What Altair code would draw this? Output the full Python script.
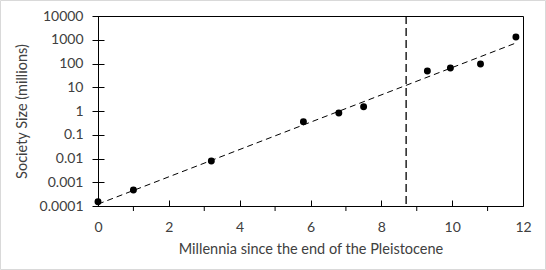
import altair as alt
import pandas as pd

# Data
millennia = [0.0, 1.0, 3.2, 5.8, 6.8, 7.5, 9.3, 9.95, 10.8, 11.8]
society_size = [0.00015, 0.00047, 0.0078, 0.35, 0.83, 1.5, 48, 65, 95, 1300]

trend_x = [0.0, 11.8]
trend_y = [0.00012, 730]

boundary_x = [8.7]

x_major = [0, 2, 4, 6, 8, 10, 12]
x_minor = [1, 3, 5, 7, 9, 11]
y_ticks = [0.0001, 0.001, 0.01, 0.1, 1, 10, 100, 1000, 10000]

pts = pd.DataFrame({"x": millennia, "y": society_size})
trend = pd.DataFrame({"x": trend_x, "y": trend_y})
vline = pd.DataFrame({"x": boundary_x})
minor = pd.DataFrame({"x": x_minor})

FONT = "Lato"

x_scale = alt.Scale(domain=[0, 12], nice=False, zero=False)
y_scale = alt.Scale(type="log", domain=[0.0001, 10000], nice=False)

x_axis = alt.Axis(
    values=x_major, title="Millennia since the end of the Pleistocene",
    offset=-6, tickSize=6, domain=False, grid=False, labelPadding=14,
    labelFontSize=14, titleFontSize=14.5, labelFont=FONT, titleFont=FONT,
    labelColor="#404040", titleColor="#404040", tickColor="black",
    titlePadding=8, titleFontWeight="normal", labelFlush=False,
)
y_axis = alt.Axis(
    values=y_ticks, title="Society Size (millions)", format="~g",
    offset=-6, tickSize=12, domain=False, grid=False, labelPadding=9,
    labelFontSize=14, titleFontSize=14.5, labelFont=FONT, titleFont=FONT,
    labelColor="#404040", titleColor="#404040", tickColor="black",
    titlePadding=10, titleFontWeight="normal", labelFlush=False,
)

points = alt.Chart(pts).mark_circle(size=48, color="black", opacity=1).encode(
    x=alt.X("x:Q", scale=x_scale, axis=x_axis),
    y=alt.Y("y:Q", scale=y_scale, axis=y_axis),
)

trend_line = alt.Chart(trend).mark_line(color="black", strokeDash=[6, 4], strokeWidth=1).encode(
    x=alt.X("x:Q", scale=x_scale),
    y=alt.Y("y:Q", scale=y_scale),
)

boundary = alt.Chart(vline).mark_rule(color="black", strokeDash=[8, 4], strokeWidth=1.3).encode(
    x=alt.X("x:Q", scale=x_scale),
)

minor_ticks = alt.Chart(minor).mark_rule(color="black", strokeWidth=1, clip=False).encode(
    x=alt.X("x:Q", scale=x_scale),
    y=alt.value(190),
    y2=alt.value(195),
)

border = alt.Chart(pd.DataFrame({"a": [0]})).mark_rect(
    fill=None, stroke="#d9d9d9", strokeWidth=1, clip=False
).encode(
    x=alt.value(-97.5), x2=alt.value(447.5),
    y=alt.value(-15.5), y2=alt.value(253.5),
)

chart = alt.layer(border, boundary, trend_line, minor_ticks, points).properties(
    width=425, height=190,
    autosize=alt.AutoSizeParams(type="none"),
    padding={"left": 98, "top": 16, "right": 23, "bottom": 64},
    background="white",
).configure_view(stroke="black", strokeWidth=1)

chart.save("out.html", embed_options={"renderer": "svg", "actions": False})
